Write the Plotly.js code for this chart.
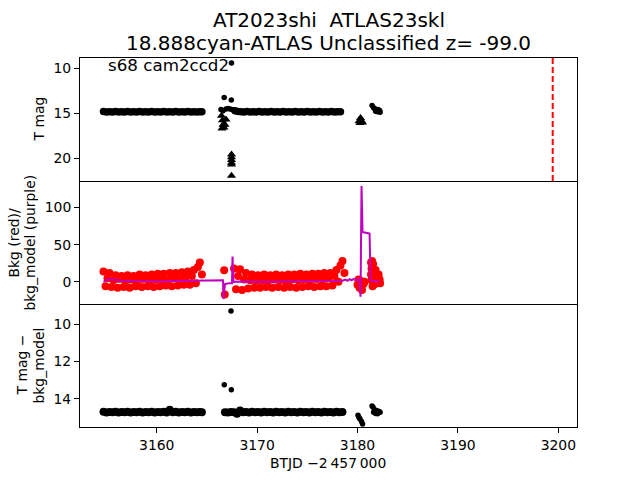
<!DOCTYPE html>
<html>
<head>
<meta charset="utf-8">
<script src="https://cdn.plot.ly/plotly-3.0.1.min.js"></script>
<style>html,body{margin:0;padding:0;background:#fff;}#chart{width:640px;height:480px;}</style>
</head>
<body>
<div id="chart"></div>
<script>
// ---------- data ----------
const titleLine1 = 'AT2023shi\u00a0 ATLAS23skl';
const titleLine2 = '18.888cyan-ATLAS Unclassified z= -99.0';
const sectorLabel = 's68 cam2ccd2';
const xLabel = 'BTJD \u22122\u2009457\u2009000';
const markerEpoch = 3199.44;

// top panel: T mag, segment A and B (detections)
const tA = [3154.7,3155.0,3155.3,3155.6,3155.9,3156.2,3156.5,3156.8,3157.1,3157.4,3157.7,3158.0,3158.3,3158.6,3158.9,3159.2,3159.5,3159.8,3160.1,3160.4,3160.7,3161.0,3161.3,3161.6,3161.9,3162.2,3162.5,3162.8,3163.1,3163.4,3163.7,3164.0,3164.3,3164.5];
const magTopA = [14.83,14.88,14.84,14.87,14.83,14.88,14.84,14.87,14.83,14.88,14.84,14.87,14.83,14.88,14.84,14.87,14.83,14.88,14.84,14.87,14.83,14.88,14.84,14.87,14.83,14.88,14.84,14.87,14.83,14.88,14.84,14.87,14.84,14.86];
const tTopB = [3167.8,3168.1,3168.4,3168.7,3169.0,3169.3,3169.6,3169.9,3170.2,3170.5,3170.8,3171.1,3171.4,3171.7,3172.0,3172.3,3172.6,3172.9,3173.2,3173.5,3173.8,3174.1,3174.4,3174.7,3175.0,3175.3,3175.6,3175.9,3176.2,3176.5,3176.8,3177.1,3177.4,3177.7,3178.0,3178.3];
const magTopB = [14.75,14.82,14.84,14.87,14.83,14.88,14.84,14.87,14.83,14.88,14.84,14.87,14.83,14.88,14.84,14.87,14.83,14.88,14.84,14.87,14.83,14.88,14.84,14.87,14.83,14.88,14.84,14.87,14.83,14.88,14.84,14.87,14.83,14.88,14.84,14.86];
const tTopC = [3166.4,3166.6,3166.9,3167.1,3167.3,3167.5,3167.65,3166.72,3167.43,3167.45,3181.45,3181.6,3181.75,3181.9,3182.05,3182.2,3181.8,3182.0,3182.25];
const magTopC = [14.6,14.75,14.55,14.5,14.55,14.6,14.65,13.28,13.55,9.44,14.15,14.4,14.55,14.6,14.6,14.7,14.8,14.85,14.9];
// top panel: upper limits (triangles)
const tTopLim = [3166.45,3166.55,3166.6,3166.7,3166.8,3166.9,3166.5,3167.45,3167.45,3167.45,3167.45,3167.45,3167.45,3180.15,3180.3,3180.4,3180.5,3180.25];
const magTopLim = [15.3,15.8,16.3,16.6,16.3,15.7,16.7,19.6,19.9,20.2,20.5,20.7,21.95,15.9,15.55,15.85,16.05,16.1];

// middle panel: background (red) and background model (purple)
const tBkg = [3154.7,3154.9,3155.1,3155.3,3155.5,3155.7,3155.9,3156.1,3156.3,3156.5,3156.7,3156.9,3157.1,3157.3,3157.5,3157.7,3157.9,3158.1,3158.3,3158.5,3158.7,3158.9,3159.1,3159.3,3159.5,3159.7,3159.9,3160.1,3160.3,3160.5,3160.7,3160.9,3161.1,3161.3,3161.5,3161.7,3161.9,3162.1,3162.3,3162.5,3162.7,3162.9,3163.1,3163.3,3163.5,3163.7,3163.9,3164.1,3164.3,3164.5,
  3166.72,3166.78,
  3167.7,3167.9,3168.1,3168.3,3168.5,3168.7,3168.9,3169.1,3169.3,3169.5,3169.7,3169.9,3170.1,3170.3,3170.5,3170.7,3170.9,3171.1,3171.3,3171.5,3171.7,3171.9,3172.1,3172.3,3172.5,3172.7,3172.9,3173.1,3173.3,3173.5,3173.7,3173.9,3174.1,3174.3,3174.5,3174.7,3174.9,3175.1,3175.3,3175.5,3175.7,3175.9,3176.1,3176.3,3176.5,3176.7,3176.9,3177.1,3177.3,3177.5,3177.7,3177.9,3178.1,3178.3,3178.5,3178.7,
  3180.0,3180.1,3180.2,3180.35,3180.45,3180.6,3180.7,
  3181.35,3181.4,3181.35,3181.4,3181.5,3181.55,3181.6,3181.65,3181.75,3181.8,3181.9,3182.0,3182.1,3182.2,3182.25,3181.45];
const bkg = [14,-6,5,12,-7,2,9,-8,4,8,-7,1,9,-8,3,8,-6,2,10,-7,4,9,-6,1,10,-7,3,11,-6,4,11,-5,2,12,-6,5,12,-5,3,13,-4,6,14,-4,8,16,-2,20,26,10,
  15.5,-17,
  18,-10,8,17,-11,3,12,-9,2,10,-8,1,9,-8,2,10,-7,1,9,-8,3,10,-7,2,9,-8,1,10,-7,3,10,-8,2,11,-7,3,10,-6,2,11,-7,4,11,-6,3,12,-6,5,12,-5,8,16,0,22,28,12,
  -4,3,-8,1,-11,-3,0,
  26,18,10,2,-6,24,14,5,-3,16,8,0,10,3,-2,28];
const tModel = [3154.7,3155.0,3155.4,3155.8,3156.5,3157.5,3158.5,3159.5,3160.5,3161.5,3162.5,3163.5,3164.5,3165.5,3166.6,3166.65,3166.8,3167.2,3167.5,3167.55,3167.65,3168.5,3169.5,3170.5,3171.5,3172.5,3173.5,3174.5,3175.5,3176.5,3177.5,3178.5,3178.8,3179.0,3179.2,3179.4,3179.6,3179.8,3180.0,3180.2,3180.3,3180.4,3180.5,3181.2,3181.3,3181.6,3182.2];
const bkgModel = [0,2.5,3.5,2.5,1.5,1,0.5,0.5,0.5,1,1,1.5,2,2,2,-23,-3,-2,-2,34,0,0.5,0,0.5,0,0.5,0.5,0,0.5,0.5,1,1.5,3,1.5,3.5,2,4,2,3,2,-20,129,67,65,2,1,0];

// bottom panel: T mag - bkg_model
const magBotA = [14.69,14.73,14.70,14.72,14.69,14.73,14.70,14.72,14.69,14.73,14.70,14.72,14.69,14.73,14.70,14.72,14.69,14.73,14.70,14.72,14.69,14.73,14.58,14.72,14.69,14.73,14.70,14.72,14.69,14.73,14.70,14.72,14.70,14.72];
const tBotB = [3166.8,3167.1,3167.4,3167.7,3168.0,3168.3,3168.6,3168.9,3169.2,3169.5,3169.8,3170.1,3170.4,3170.7,3171.0,3171.3,3171.6,3171.9,3172.2,3172.5,3172.8,3173.1,3173.4,3173.7,3174.0,3174.3,3174.6,3174.9,3175.2,3175.5,3175.8,3176.1,3176.4,3176.7,3177.0,3177.3,3177.6,3177.9,3178.2,3178.5];
const magBotB = [14.72,14.73,14.70,14.72,14.80,14.62,14.72,14.70,14.73,14.69,14.72,14.70,14.73,14.69,14.72,14.70,14.73,14.69,14.72,14.70,14.73,14.69,14.72,14.70,14.73,14.69,14.72,14.70,14.73,14.69,14.72,14.70,14.73,14.69,14.72,14.70,14.73,14.69,14.72,14.71];
const tBotC = [3167.4,3166.73,3167.43,3180.05,3180.15,3180.25,3180.4,3180.5,3181.45,3181.55,3181.7,3181.85,3182.0,3182.15,3182.25,3181.6,3181.8,3182.0];
const magBotC = [9.29,13.25,13.52,14.88,15.0,15.08,15.22,15.35,14.38,14.45,14.58,14.62,14.65,14.68,14.72,14.72,14.78,14.8];

// ---------- figure ----------
const FONT = 'DejaVu Sans, Verdana, sans-serif';
const black = '#000000';
const band = {color: black, size: 7.5};
const dot = {color: black, size: 5.5};

const traces = [
  {x: tA, y: magTopA, xaxis: 'x', yaxis: 'y', mode: 'markers', type: 'scatter', marker: band},
  {x: tTopB, y: magTopB, xaxis: 'x', yaxis: 'y', mode: 'markers', type: 'scatter', marker: band},
  {x: tTopC, y: magTopC, xaxis: 'x', yaxis: 'y', mode: 'markers', type: 'scatter', marker: dot},
  {x: tTopLim, y: magTopLim, xaxis: 'x', yaxis: 'y', mode: 'markers', type: 'scatter', marker: {color: black, size: 8, symbol: 'triangle-up'}},
  {x: tBkg, y: bkg, xaxis: 'x2', yaxis: 'y2', mode: 'markers', type: 'scatter', marker: {color: '#ff0000', size: 8}},
  {x: tModel, y: bkgModel, xaxis: 'x2', yaxis: 'y2', mode: 'lines', type: 'scatter', line: {color: '#bf00bf', width: 2}},
  {x: tA, y: magBotA, xaxis: 'x3', yaxis: 'y3', mode: 'markers', type: 'scatter', marker: {color: black, size: 8}},
  {x: tBotB, y: magBotB, xaxis: 'x3', yaxis: 'y3', mode: 'markers', type: 'scatter', marker: {color: black, size: 8}},
  {x: tBotC, y: magBotC, xaxis: 'x3', yaxis: 'y3', mode: 'markers', type: 'scatter', marker: dot}
];

const xRange = [3152.36, 3201.86];
const axCommon = {showline: true, linecolor: black, linewidth: 1, showgrid: false, zeroline: false,
  ticks: 'outside', ticklen: 5, tickwidth: 1, tickcolor: black, tickfont: {family: FONT, size: 13.9, color: black}};

const layout = {
  width: 640, height: 480,
  margin: {l: 80, r: 63, t: 58, b: 53, pad: 0},
  paper_bgcolor: '#ffffff', plot_bgcolor: '#ffffff',
  showlegend: false,
  font: {family: FONT, color: black},
  xaxis: Object.assign({}, axCommon, {range: xRange, anchor: 'y', matches: 'x3', mirror: true, showticklabels: false, ticks: ''}),
  xaxis2: Object.assign({}, axCommon, {range: xRange, anchor: 'y2', matches: 'x3', mirror: false, showticklabels: false, ticks: ''}),
  xaxis3: Object.assign({}, axCommon, {range: xRange, anchor: 'y3', mirror: false, tickvals: [3160, 3170, 3180, 3190, 3200]}),
  yaxis: Object.assign({}, axCommon, {domain: [2/3, 1], anchor: 'x', mirror: true, range: [22.54, 8.88], tickvals: [10, 15, 20]}),
  yaxis2: Object.assign({}, axCommon, {domain: [1/3, 2/3], anchor: 'x2', mirror: true, range: [-29.8, 135.7], tickvals: [0, 50, 100]}),
  yaxis3: Object.assign({}, axCommon, {domain: [0, 1/3], anchor: 'x3', mirror: true, range: [15.51, 8.917], tickvals: [10, 12, 14]}),
  shapes: [
    {type: 'line', xref: 'x', yref: 'y domain', x0: markerEpoch, x1: markerEpoch, y0: 0, y1: 1,
     line: {color: '#ff0000', width: 2, dash: '6px,3px'}}
  ],
  annotations: [
    {text: titleLine1, xref: 'paper', yref: 'paper', x: 0.5, y: 1.1043, xanchor: 'center', yanchor: 'middle', showarrow: false, font: {family: FONT, size: 20, color: black}},
    {text: titleLine2, xref: 'paper', yref: 'paper', x: 0.5, y: 1.0398, xanchor: 'center', yanchor: 'middle', showarrow: false, font: {family: FONT, size: 20, color: black}},
    {text: sectorLabel, xref: 'paper', yref: 'paper', x: 0.0523, y: 0.9797, xanchor: 'left', yanchor: 'middle', showarrow: false, font: {family: FONT, size: 16.7, color: black}},
    {text: xLabel, xref: 'paper', yref: 'paper', x: 0.499, y: -0.098, xanchor: 'center', yanchor: 'middle', showarrow: false, font: {family: FONT, size: 13.9, color: black}},
    {text: 'T mag', xref: 'paper', yref: 'y domain', x: -0.0845, y: 0.5, xanchor: 'center', yanchor: 'middle', textangle: -90, showarrow: false, font: {family: FONT, size: 13.9, color: black}},
    {text: 'Bkg (red)/', xref: 'paper', yref: 'y2 domain', x: -0.1328, y: 0.5, xanchor: 'center', yanchor: 'middle', textangle: -90, showarrow: false, font: {family: FONT, size: 13.9, color: black}},
    {text: 'bkg_model (purple)', xref: 'paper', yref: 'y2 domain', x: -0.1026, y: 0.5, xanchor: 'center', yanchor: 'middle', textangle: -90, showarrow: false, font: {family: FONT, size: 13.9, color: black}},
    {text: 'T mag \u2212', xref: 'paper', yref: 'y3 domain', x: -0.1187, y: 0.5, xanchor: 'center', yanchor: 'middle', textangle: -90, showarrow: false, font: {family: FONT, size: 13.9, color: black}},
    {text: 'bkg_model', xref: 'paper', yref: 'y3 domain', x: -0.0825, y: 0.5, xanchor: 'center', yanchor: 'middle', textangle: -90, showarrow: false, font: {family: FONT, size: 13.9, color: black}}
  ]
};

Plotly.newPlot('chart', traces, layout, {displayModeBar: false, staticPlot: true});
</script>
</body>
</html>
